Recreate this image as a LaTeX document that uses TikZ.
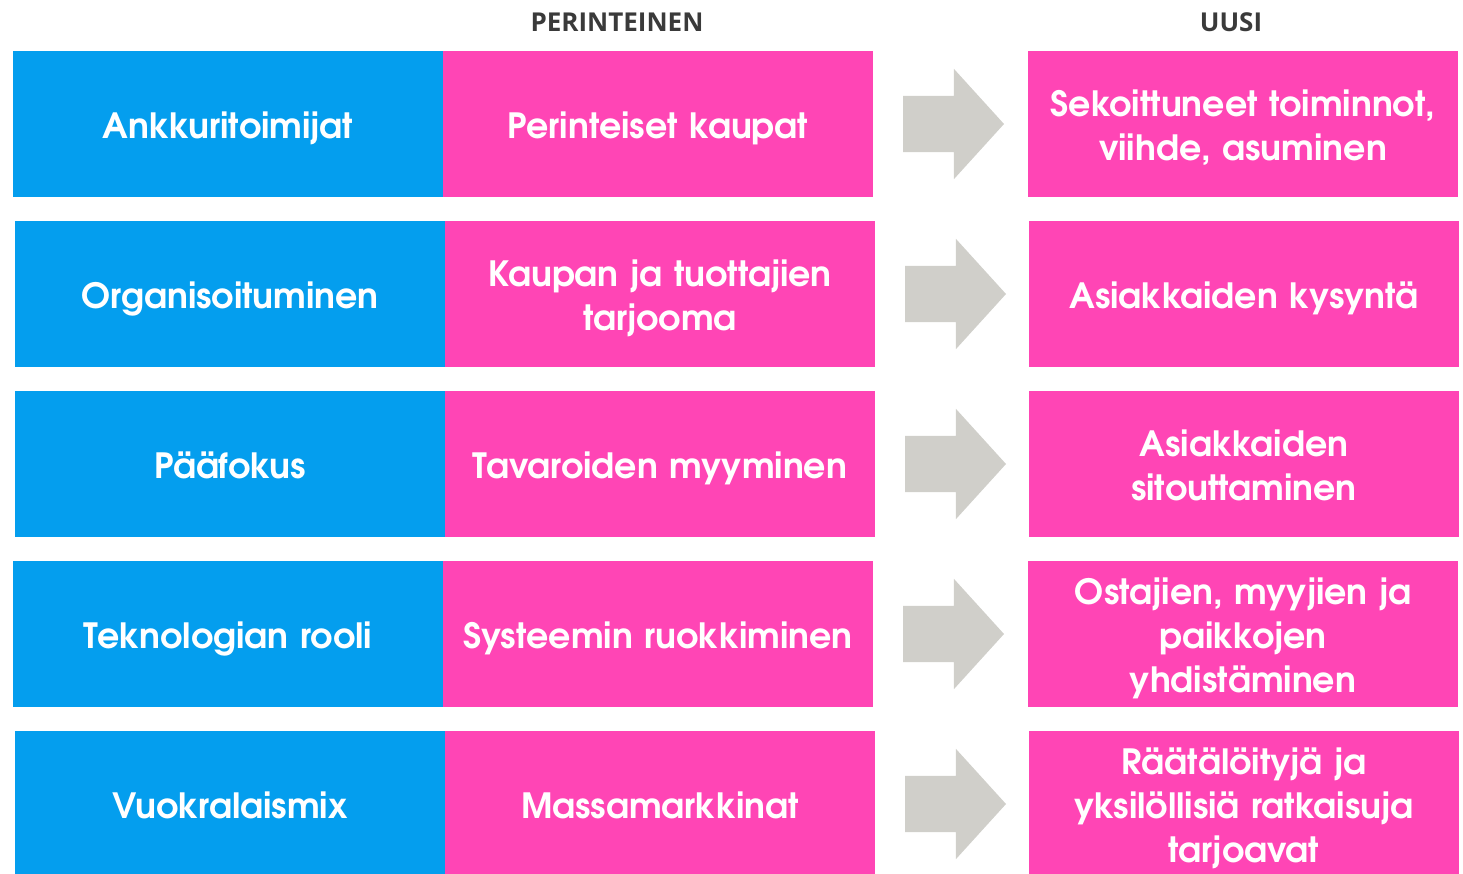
\documentclass[tikz,border=0pt]{standalone}
\usepackage{fontspec}
\setmainfont{TeX Gyre Adventor}
\newfontfamily\headfont{Open Sans}
\usetikzlibrary{positioning,shapes.arrows}
\definecolor{boxblue}{RGB}{4,158,238}
\definecolor{boxpink}{RGB}{255,69,181}
\definecolor{arrowgray}{RGB}{208,207,202}
\definecolor{headgray}{RGB}{58,58,58}

\begin{document}
\begin{tikzpicture}[x=1pt,y=-1pt,node distance=0pt,
	                    every node/.style={inner sep=0pt,outer sep=0pt}]
	  \tikzstyle{cell}=[minimum width=430pt,minimum height=146pt,text width=424pt,
	                    align=center,text=white,font=\bfseries\fontsize{34.8}{44}\selectfont,
	                    execute at begin node={\rule{0pt}{40pt}},
	                    execute at end node={\rule[-11pt]{0pt}{11pt}}]
	  \tikzstyle{aspect}=[cell,fill=boxblue]
	  \tikzstyle{old}=[cell,fill=boxpink]
	  \tikzstyle{new}=[cell,fill=boxpink]
	  \tikzstyle{bigarrow}=[single arrow,anchor=tail,fill=arrowgray,minimum height=101pt,
	                    inner sep=28pt,single arrow head extend=27pt,
	                    single arrow tip angle=95.5,single arrow head indent=0pt]
	  \tikzstyle{head}=[text=headgray,font=\headfont\bfseries\fontsize{26}{30}\selectfont]

	  \useasboundingbox (0,0) rectangle (1463,874);

	  \node[head]				(hold)					at (617,22)		{PERINTEINEN};
	  \node[head]				(hnew)					at (1231,22)	{UUSI};

	  \node[aspect]				(a1)					at (228,124)	{Ankkuritoimijat};
	  \node[old]				(o1) [right=of a1]						{Perinteiset kaupat};
	  \node[bigarrow]			(s1)					at (903,124)	{};
	  \node[new]				(n1)					at (1243,124)	{Sekoittuneet toiminnot,\\viihde, asuminen};

	  \node[aspect]				(a2)					at (230,294)	{Organisoituminen};
	  \node[old]				(o2) [right=of a2]						{Kaupan ja tuottajien\\tarjooma};
	  \node[bigarrow]			(s2)					at (905,294)	{};
	  \node[new]				(n2)					at (1244,294)	{Asiakkaiden kysyntä};

	  \node[aspect]				(a3)					at (230,464)	{Pääfokus};
	  \node[old]				(o3) [right=of a3]						{Tavaroiden myyminen};
	  \node[bigarrow]			(s3)					at (905,464)	{};
	  \node[new]				(n3)					at (1244,464)	{Asiakkaiden\\sitouttaminen};

	  \node[aspect]				(a4)					at (228,634)	{Teknologian rooli};
	  \node[old]				(o4) [right=of a4]						{Systeemin ruokkiminen};
	  \node[bigarrow]			(s4)					at (903,634)	{};
	  \node[new]				(n4)					at (1243,634)	{Ostajien, myyjien ja\\paikkojen\\yhdistäminen};

	  \node[aspect]				(a5)					at (230,804)	{Vuokralaismix};
	  \node[old]				(o5) [right=of a5]						{Massamarkkinat};
	  \node[bigarrow]			(s5)					at (905,804)	{};
	  \node[new]				(n5)					at (1244,804)	{Räätälöityjä ja\\yksilöllisiä ratkaisuja\\tarjoavat};
	\end{tikzpicture}
\end{document}
